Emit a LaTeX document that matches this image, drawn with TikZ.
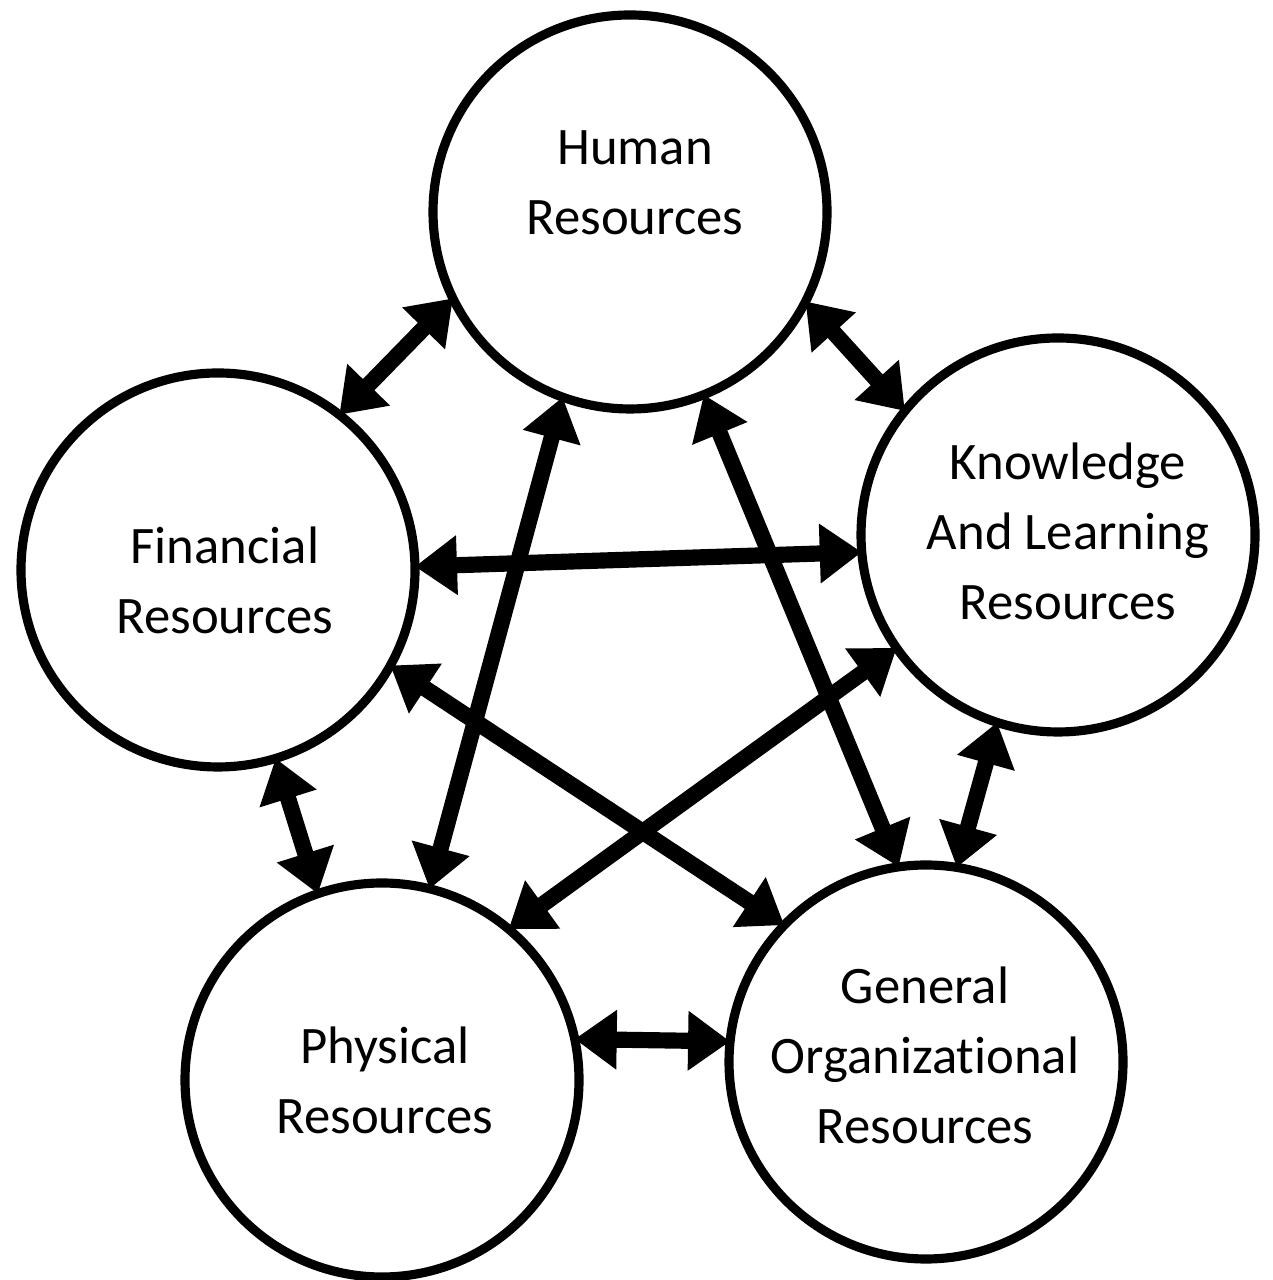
\documentclass[tikz,border=0pt]{standalone}
\usepackage{fontspec}
\setmainfont{Carlito}[Ligatures=NoCommon]
\usetikzlibrary{arrows.meta}

\begin{document}
\begin{tikzpicture}[
    res/.style={circle, draw, line width=2.6pt, minimum size=3.94cm, inner sep=0pt, outer sep=0pt},
    lbl/.style={align=center, font=\fontsize{15}{19.9}\selectfont},
    link/.style={line width=4.6pt, {Triangle[length=0.42cm,width=0.57cm]}-{Triangle[length=0.42cm,width=0.57cm]}}
  ]
      \useasboundingbox (0,0) rectangle (12.72,12.80);

      % Draw the five resource circles
      \node[res] (hum) at (6.30,10.68) {};
      \node[res] (fin) at (2.18,7.10) {};
      \node[res] (know) at (10.58,7.45) {};
      \node[res] (phys) at (3.82,2.00) {};
      \node[res] (gen) at (9.26,2.18) {};

      % Labels
      \node[lbl] (humtxt) at (6.35,10.97) {Human\\Resources};
      \node[lbl] (fintxt) at (2.25,7.00) {Financial\\Resources};
      \node[lbl] (knowtxt) at (10.68,7.49) {Knowledge\\And Learning\\Resources};
      \node[lbl] (phystxt) at (3.85,2.00) {Physical\\Resources};
      \node[lbl] (gentxt) at (9.25,2.25) {General\\Organizational\\Resources};

      % Draw links around the ring
      \draw[link] (hum.-154) -- (fin.52);
      \draw[link] (hum.-27) -- (know.141);
      \draw[link] (fin.-73) -- (phys.109);
      \draw[link] (know.-108) -- (gen.81);
      \draw[link] (phys.12) -- (gen.174);

      % Draw links across the ring
      \draw[link] (fin.1) -- (know.-175);
      \draw[link] (hum.-110) -- (phys.76);
      \draw[link] (hum.-68) -- (gen.98);
      \draw[link] (fin.-29) -- (gen.136);
      \draw[link] (know.-145) -- (phys.50);
\end{tikzpicture}
\end{document}
